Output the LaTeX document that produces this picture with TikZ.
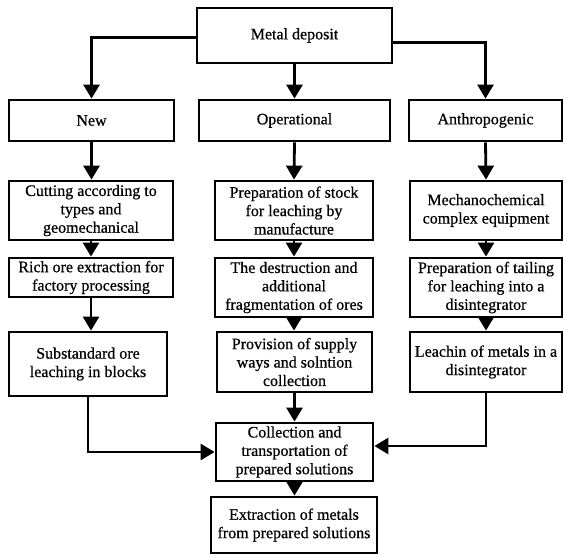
\documentclass[tikz,border=0pt]{standalone}
\usepackage{fontspec}
\setmainfont{Liberation Serif}
\newfontfamily\heavyfont{Liberation Serif}[FakeBold=0.6]
\usetikzlibrary{arrows.meta}
\begin{document}
\begin{tikzpicture}[x=0.75pt,y=-0.75pt,
  box/.style={draw=black, line width=2.1pt, inner sep=0pt, align=center,
    font=\heavyfont\fontsize{12pt}{13.8pt}\selectfont},
  arr/.style={line width=2.1pt, -{Triangle[width=12pt,length=10.5pt]}},
  ln/.style={line width=2.1pt}]
\useasboundingbox (0,0) rectangle (564,557);
\newcommand{\bx}[6]{\node[box, minimum width={(#4-#2)*0.75pt}, minimum height={(#5-#3)*0.75pt}] (#1) at ({(#2+#4)/2},{(#3+#5)/2}) {#6};}
% top
\bx{top}{197}{8}{392}{63}{Metal deposit}
% row 2
\bx{new}{9}{100}{174}{141}{New}
\bx{oper}{199}{100}{390}{141}{Operational}
\bx{anth}{409}{100}{562}{141}{Anthropogenic}
% left column
\bx{cut}{9}{181}{173}{240}{Cutting according to\\types and\\geomechanical}
\bx{rich}{9}{258}{173}{297}{Rich ore extraction for\\factory processing}
\bx{sub}{9}{332}{167}{396}{Substandard ore\\leaching in blocks}
% middle column
\bx{prep}{215}{181}{373}{240}{Preparation of stock\\for leaching by\\manufacture}
\bx{destr}{215}{258}{373}{317}{The destruction and\\additional\\fragmentation of ores}
\bx{prov}{217}{332}{372}{392}{Provision of supply\\ways and solntion\\collection}
% right column
\bx{mech}{410}{181}{562}{240}{Mechanochemical\\complex equipment}
\bx{tail}{410}{258}{562}{317}{Preparation of tailing\\for leaching into a\\disintegrator}
\bx{leach}{410}{332}{562}{392}{Leachin of metals in a\\disintegrator}
% bottom
\bx{coll}{216}{423}{373}{481}{Collection and\\transportation of\\prepared solutions}
\bx{extr}{211}{497}{377}{553}{Extraction of metals\\from prepared solutions}
% connectors
\draw[arr] ([yshift=-1.5pt]top.west) -| (new.north);
\draw[arr] ([yshift=-5pt]top.east) -| (anth.north);
\draw[arr] (top.south) -- (oper.north);
\draw[arr] (new.south) -- (new.south |- cut.north);
\draw[arr] (cut.south) -- (rich.north);
\draw[arr] (rich.south) -- (rich.south |- sub.north);
\draw[arr] (oper.south) -- (prep.north);
\draw[arr] (prep.south) -- (destr.north);
\draw[arr] (destr.south) -- (destr.south |- prov.north);
\draw[arr] (prov.south) -- (prov.south |- coll.north);
\draw[arr] (anth.south) -- (mech.north);
\draw[arr] (mech.south) -- (tail.north);
\draw[arr] (tail.south) -- (leach.north);
\draw[arr] (sub.south) |- (coll.west);
\draw[arr] (leach.south) |- ([yshift=4.5pt]coll.east);
\draw[arr] (coll.south) -- (coll.south |- extr.north);
\end{tikzpicture}
\end{document}
